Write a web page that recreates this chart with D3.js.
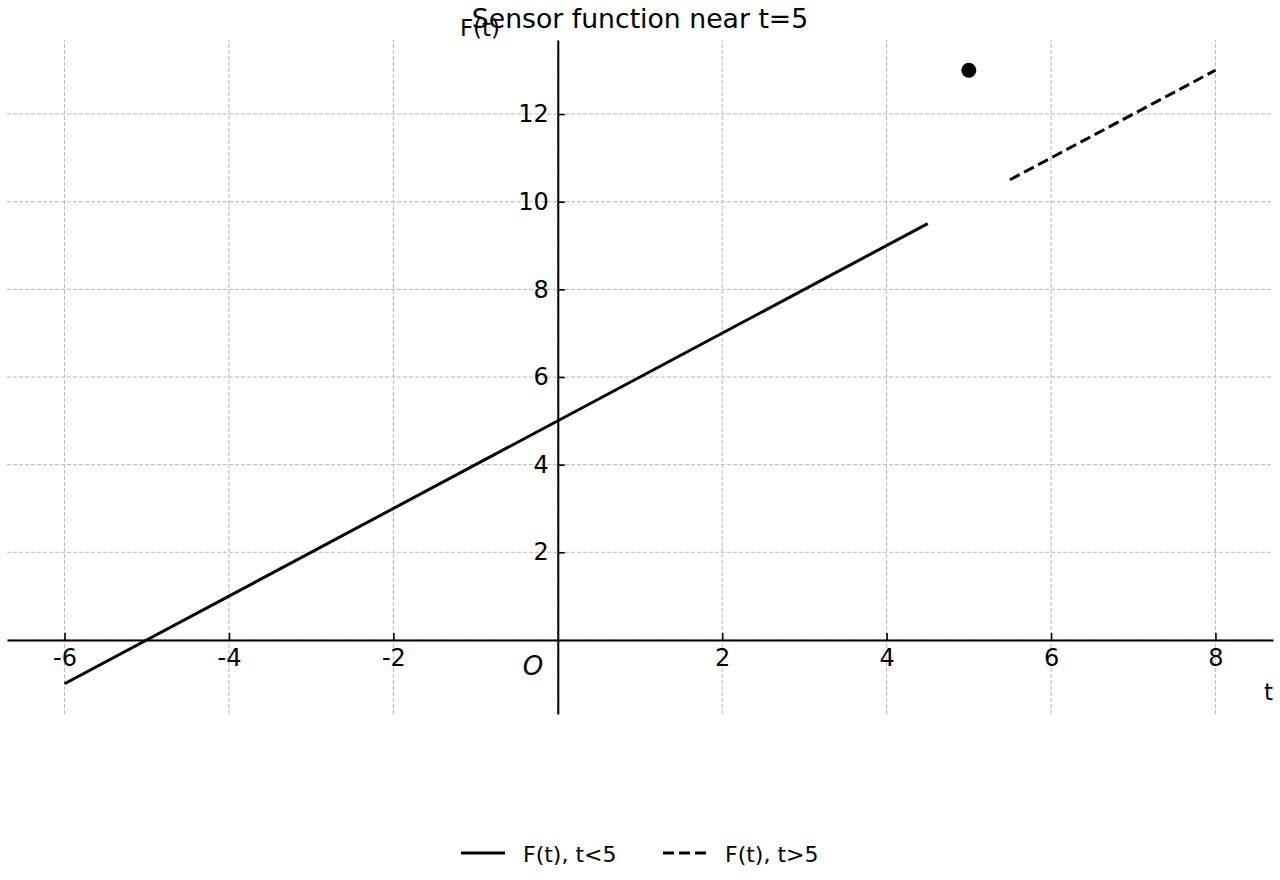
<!DOCTYPE html>
<html>
<head>
<meta charset="utf-8">
<script src="https://cdn.jsdelivr.net/npm/d3@7"></script>
<style>
  body { margin: 0; background: #fff; }
  svg text { font-family: "DejaVu Sans", sans-serif; fill: #000; }
</style>
</head>
<body>
<div id="chart"></div>
<script>
// data
var solidT = [-6, 4.5],
    solidF = [-1, 9.5];
var dashT = [5.5, 8],
    dashF = [10.5, 13];
var pointT = [5],
    pointF = [13];
var xTicks = [-6, -4, -2, 2, 4, 6, 8];
var yTicks = [2, 4, 6, 8, 10, 12];
var xGrid = [-6, -4, -2, 0, 2, 4, 6, 8];
var yGrid = [0, 2, 4, 6, 8, 10, 12];
var legendLabels = ["F(t), t<5", "F(t), t>5"];

var totalWidth = 1280, totalHeight = 880;

var svg = d3.select("#chart").append("svg")
    .attr("width", totalWidth)
    .attr("height", totalHeight);

// scales
var xScale = d3.scaleLinear().domain([-6.7, 8.7]).range([7, 1273]);
var yScale = d3.scaleLinear().domain([-1.69, 13.69]).range([714, 40]);

// grid
var grid = svg.append("g").attr("class", "grid");
grid.selectAll(".vgrid")
    .data(xGrid)
  .enter().append("line")
    .attr("x1", function(d) { return xScale(d); })
    .attr("x2", function(d) { return xScale(d); })
    .attr("y1", yScale.range()[0])
    .attr("y2", yScale.range()[1])
    .attr("stroke", "#b8b8b8").attr("stroke-width", 1).attr("stroke-dasharray", "4,2");
grid.selectAll(".hgrid")
    .data(yGrid)
  .enter().append("line")
    .attr("y1", function(d) { return yScale(d); })
    .attr("y2", function(d) { return yScale(d); })
    .attr("x1", xScale.range()[0])
    .attr("x2", xScale.range()[1])
    .attr("stroke", "#b8b8b8").attr("stroke-width", 1).attr("stroke-dasharray", "4,2");

// axes through the origin
var xAxis = svg.append("g")
    .attr("transform", "translate(0," + yScale(0) + ")")
    .call(d3.axisBottom(xScale).tickValues(xTicks).tickSize(-7).tickSizeOuter(0).tickPadding(9)
      .tickFormat(d3.format("d")));
var yAxis = svg.append("g")
    .attr("transform", "translate(" + xScale(0) + ",0)")
    .call(d3.axisLeft(yScale).tickValues(yTicks).tickSize(-7).tickSizeOuter(0).tickPadding(9)
      .tickFormat(d3.format("d")));

[xAxis, yAxis].forEach(function(ax) {
  ax.select(".domain").attr("stroke", "#000").attr("stroke-width", 2);
  ax.selectAll(".tick line").attr("stroke", "#000").attr("stroke-width", 1.6);
  ax.selectAll(".tick text")
    .style("font-family", "DejaVu Sans")
    .style("font-size", "24px")
    .attr("fill", "#000");
});
// use a plain hyphen like the reference
xAxis.selectAll(".tick text").text(function(d) { return String(d); });

// lines
var line = d3.line()
    .x(function(d) { return xScale(d.t); })
    .y(function(d) { return yScale(d.f); });

var solidData = solidT.map(function(t, i) { return {t: t, f: solidF[i]}; });
var dashData = dashT.map(function(t, i) { return {t: t, f: dashF[i]}; });

svg.append("path")
    .datum(solidData)
    .attr("d", line)
    .attr("fill", "none").attr("stroke", "#000").attr("stroke-width", 3);

svg.append("path")
    .datum(dashData)
    .attr("d", line)
    .attr("fill", "none").attr("stroke", "#000").attr("stroke-width", 3)
    .attr("stroke-dasharray", "11,5");

svg.selectAll(".dot")
    .data(pointT)
  .enter().append("circle")
    .attr("cx", function(d) { return xScale(d); })
    .attr("cy", function(d, i) { return yScale(pointF[i]); })
    .attr("r", 7.5)
    .attr("fill", "#000");

// labels
svg.append("text")
    .attr("x", 640).attr("y", 28)
    .attr("text-anchor", "middle")
    .style("font-size", "26.7px")
    .text("Sensor function near t=5");

svg.append("text")
    .attr("x", 480).attr("y", 36)
    .attr("text-anchor", "middle")
    .style("font-size", "23px")
    .text("F(t)");

svg.append("text")
    .attr("x", 1273).attr("y", 700)
    .attr("text-anchor", "end")
    .style("font-size", "23px")
    .text("t");

svg.append("text")
    .attr("x", 533).attr("y", 675)
    .attr("text-anchor", "middle")
    .style("font-size", "26px")
    .style("font-style", "italic")
    .text("O");

// legend
var legend = svg.append("g").attr("class", "legend");
var legendX = [461, 663];
legendLabels.forEach(function(label, i) {
  legend.append("line")
      .attr("x1", legendX[i]).attr("x2", legendX[i] + 44)
      .attr("y1", 853).attr("y2", 853)
      .attr("stroke", "#000").attr("stroke-width", 3)
      .attr("stroke-dasharray", i === 1 ? "11,5" : null);
  legend.append("text")
      .attr("x", legendX[i] + 62).attr("y", 862)
      .style("font-size", "22px")
      .text(label);
});
</script>
</body>
</html>
